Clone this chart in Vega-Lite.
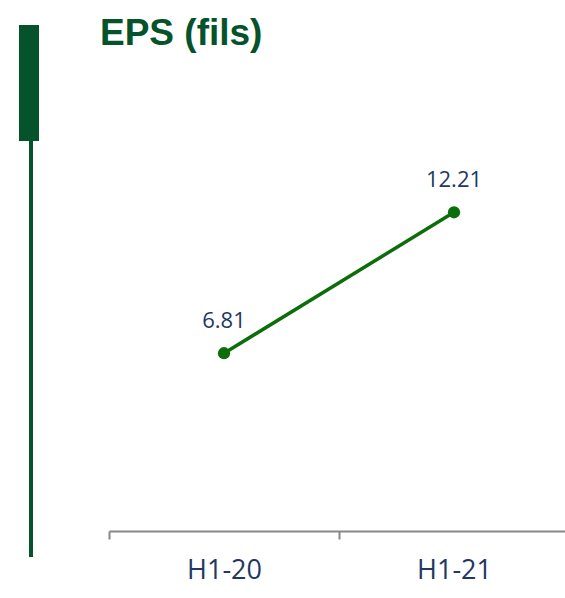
{
  "$schema": "https://vega.github.io/schema/vega-lite/v6.json",
  "background": "white",
  "padding": {"left": 19, "top": 15, "right": 0, "bottom": 12},
  "spacing": 61,
  "config": {"view": {"stroke": null}},
  "datasets": {
    "eps": [
      {"period": "H1-20", "eps": 6.81},
      {"period": "H1-21", "eps": 12.21}
    ],
    "deco": [
      {"part": "block", "from": -7.91, "to": 15.62},
      {"part": "stem", "from": 15.62, "to": 100}
    ]
  },
  "hconcat": [
    {
      "width": 20,
      "height": 493,
      "data": {"name": "deco"},
      "layer": [
        {
          "transform": [{"filter": "datum.part === 'block'"}],
          "mark": {"type": "rect", "color": "#04532b"},
          "encoding": {
            "x": {"datum": 0, "type": "quantitative", "scale": {"domain": [0, 1]}, "axis": null},
            "x2": {"datum": 1},
            "y": {"field": "from", "type": "quantitative", "scale": {"domain": [0, 100], "reverse": true}, "axis": null},
            "y2": {"field": "to"}
          }
        },
        {
          "transform": [{"filter": "datum.part === 'stem'"}],
          "mark": {"type": "rule", "color": "#04532b", "strokeWidth": 4},
          "encoding": {
            "x": {"datum": 0.6, "type": "quantitative", "scale": {"domain": [0, 1]}, "axis": null},
            "y": {"field": "from", "type": "quantitative", "scale": {"domain": [0, 100], "reverse": true}, "axis": null},
            "y2": {"field": "to"}
          }
        }
      ]
    },
    {
      "width": 460,
      "height": 467,
      "title": {
        "text": "EPS (fils)",
        "anchor": "start",
        "dx": -8,
        "offset": 11,
        "font": "Liberation Sans",
        "fontSize": 37,
        "fontWeight": "bold",
        "color": "#04532b"
      },
      "data": {"name": "eps"},
      "encoding": {
        "x": {
          "field": "period",
          "type": "nominal",
          "scale": {"type": "band", "paddingInner": 0, "paddingOuter": 0},
          "axis": {
            "title": null,
            "labelAngle": 0,
            "tickBand": "extent",
            "domainColor": "#888888",
            "domainWidth": 2,
            "tickColor": "#888888",
            "tickWidth": 2,
            "tickSize": 8,
            "labelFont": "Open Sans",
            "labelFontSize": 27,
            "labelColor": "#1f3864",
            "labelPadding": 18,
            "grid": false
          }
        },
        "y": {
          "field": "eps",
          "type": "quantitative",
          "scale": {"domain": [0, 17.89]},
          "axis": null
        }
      },
      "layer": [
        {"mark": {"type": "line", "color": "#0b6e0b", "strokeWidth": 3.5}},
        {"mark": {"type": "point", "filled": true, "opacity": 1, "size": 150, "color": "#0b6e0b"}},
        {
          "mark": {"type": "text", "dy": -32, "baseline": "middle", "align": "center", "font": "Open Sans", "fontSize": 22, "color": "#1f3864"},
          "encoding": {"text": {"field": "eps", "type": "quantitative", "format": ".2f"}}
        }
      ]
    }
  ]
}
